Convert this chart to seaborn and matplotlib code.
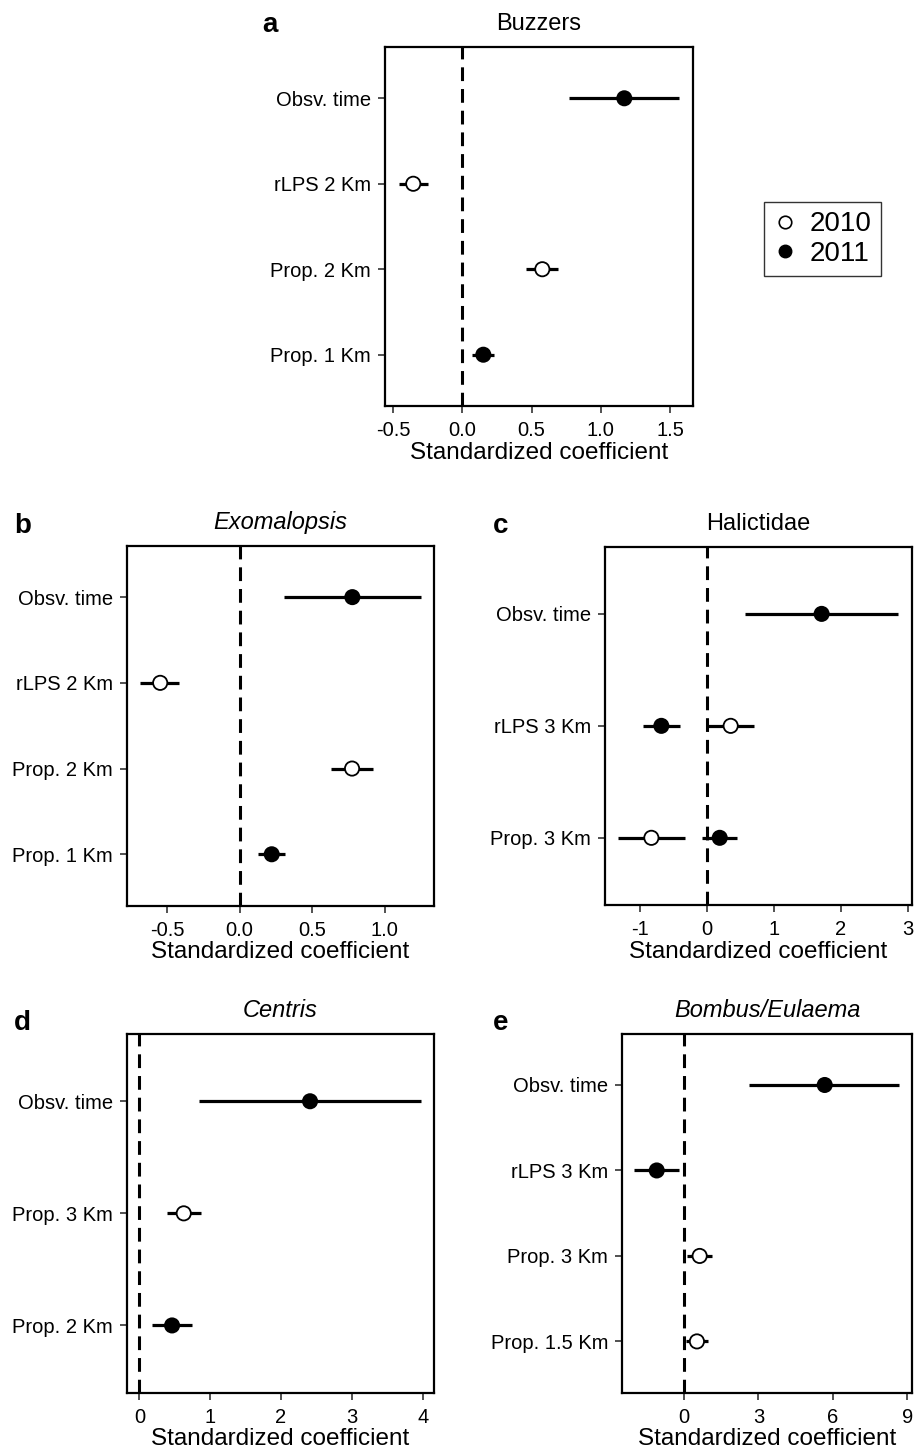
import numpy as np
import pandas as pd
import seaborn as sns
import matplotlib
matplotlib.use("Agg")
from matplotlib import pyplot as plt
from matplotlib.lines import Line2D

# ---- dados ----
# a - Buzzers
a_terms = ["Obsv. time", "rLPS 2 Km", "Prop. 2 Km", "Prop. 1 Km"]
a_row_term = ["Obsv. time", "rLPS 2 Km", "Prop. 2 Km", "Prop. 1 Km"]
a_year = ["2011", "2010", "2010", "2011"]
a_est = [1.17, -0.354, 0.578, 0.152]
a_lo = [0.77, -0.457, 0.46, 0.072]
a_hi = [1.565, -0.245, 0.693, 0.231]

# b - Exomalopsis
b_terms = ["Obsv. time", "rLPS 2 Km", "Prop. 2 Km", "Prop. 1 Km"]
b_row_term = ["Obsv. time", "rLPS 2 Km", "Prop. 2 Km", "Prop. 1 Km"]
b_year = ["2011", "2010", "2010", "2011"]
b_est = [0.777, -0.548, 0.775, 0.221]
b_lo = [0.306, -0.686, 0.628, 0.124]
b_hi = [1.248, -0.417, 0.917, 0.315]

# c - Halictidae
c_terms = ["Obsv. time", "rLPS 3 Km", "Prop. 3 Km"]
c_row_term = ["Obsv. time", "rLPS 3 Km", "rLPS 3 Km", "Prop. 3 Km", "Prop. 3 Km"]
c_year = ["2011", "2011", "2010", "2010", "2011"]
c_est = [1.714, -0.683, 0.354, -0.832, 0.19]
c_lo = [0.568, -0.961, 0.0, -1.326, -0.07]
c_hi = [2.86, -0.399, 0.702, -0.329, 0.444]

# d - Centris
d_terms = ["Obsv. time", "Prop. 3 Km", "Prop. 2 Km"]
d_row_term = ["Obsv. time", "Prop. 3 Km", "Prop. 2 Km"]
d_year = ["2011", "2010", "2011"]
d_est = [2.41, 0.627, 0.462]
d_lo = [0.843, 0.395, 0.184]
d_hi = [3.97, 0.866, 0.744]

# e - Bombus/Eulaema
e_terms = ["Obsv. time", "rLPS 3 Km", "Prop. 3 Km", "Prop. 1.5 Km"]
e_row_term = ["Obsv. time", "rLPS 3 Km", "Prop. 3 Km", "Prop. 1.5 Km"]
e_year = ["2011", "2011", "2010", "2010"]
e_est = [5.67, -1.10, 0.63, 0.52]
e_lo = [2.63, -2.0, 0.13, 0.08]
e_hi = [8.68, -0.2, 1.14, 0.98]

sns.set_theme(style="ticks")
plt.rcParams['font.family'] = ['Liberation Sans', 'DejaVu Sans']
plt.rcParams['axes.unicode_minus'] = False
plt.rcParams['text.color'] = 'black'
plt.rcParams['axes.labelcolor'] = 'black'
plt.rcParams['xtick.color'] = 'black'
plt.rcParams['ytick.color'] = 'black'
plt.rcParams['xtick.labelcolor'] = 'black'
plt.rcParams['ytick.labelcolor'] = 'black'

W, H = 923, 1451
fig = plt.figure(figsize=(W / 100, H / 100), dpi=100)


def px_axes(x0, y0, x1, y1):
    return fig.add_axes([x0 / W, 1 - y1 / H, (x1 - x0) / W, (y1 - y0) / H])


def painel(ax, terms, row_term, year, est, lo, hi, xlim, xticks, title, italic=False):
    dados = pd.DataFrame({'term': row_term, 'year': year, 'est': est, 'lo': lo, 'hi': hi})
    dados['pos'] = dados.term.map({t: i for i, t in enumerate(terms)})
    ax.axvline(0, color='black', lw=2.2, dashes=(4.5, 2.6), zorder=1)
    ax.hlines(dados.pos, dados.lo, dados.hi, color='black', lw=2.3, zorder=2)
    sns.scatterplot(data=dados, x='est', y='pos', hue='year', palette={'2010': 'white', '2011': 'black'},
                    hue_order=['2010', '2011'], s=105, edgecolor='black', linewidth=1.3,
                    legend=False, zorder=3, ax=ax)
    ax.set_ylim(len(terms) - 0.4, -0.6)
    ax.set_yticks(range(len(terms)))
    ax.set_yticklabels(terms)
    ax.set_xlim(*xlim)
    ax.set_xticks(xticks)
    ax.set_xlabel('Standardized coefficient', fontsize=17.5, labelpad=1)
    ax.set_ylabel('')
    ax.set_title(title, fontsize=17, pad=12, style='italic' if italic else 'normal')
    ax.tick_params(axis='x', labelsize=14.5, length=5, width=1.2, color='#333333', pad=6)
    ax.tick_params(axis='y', labelsize=14.5, length=5, width=1.2, color='#333333', pad=5)
    for s in ax.spines.values():
        s.set_visible(True)
        s.set_linewidth(1.6)
        s.set_color('black')
    return ax


ax_a = px_axes(385, 47, 693, 406)
painel(ax_a, a_terms, a_row_term, a_year, a_est, a_lo, a_hi, (-0.558, 1.666),
       [-0.5, 0.0, 0.5, 1.0, 1.5], 'Buzzers')
ax_b = px_axes(126.7, 545.7, 434, 905.7)
painel(ax_b, b_terms, b_row_term, b_year, b_est, b_lo, b_hi, (-0.779, 1.34),
       [-0.5, 0.0, 0.5, 1.0], 'Exomalopsis', italic=True)
ax_c = px_axes(604.7, 546.7, 912.3, 905)
painel(ax_c, c_terms, c_row_term, c_year, c_est, c_lo, c_hi, (-1.53, 3.07),
       [-1, 0, 1, 2, 3], 'Halictidae')
ax_d = px_axes(127, 1034, 434, 1392.7)
painel(ax_d, d_terms, d_row_term, d_year, d_est, d_lo, d_hi, (-0.174, 4.16),
       [0, 1, 2, 3, 4], 'Centris', italic=True)
ax_e = px_axes(622, 1033.7, 912.3, 1392.7)
painel(ax_e, e_terms, e_row_term, e_year, e_est, e_lo, e_hi, (-2.5, 9.2),
       [0, 3, 6, 9], 'Bombus/Eulaema', italic=True)

# letras dos paineis
letras = {'a': (262, 32), 'b': (14, 533), 'c': (493, 533), 'd': (14, 1030), 'e': (493, 1030)}
for k, (x, y) in letras.items():
    fig.text(x / W, 1 - y / H, k, fontsize=20, fontweight='bold', ha='left', va='baseline')

handles = [Line2D([], [], ls='', marker='o', markersize=9, markerfacecolor='white', markeredgecolor='black', markeredgewidth=1.2),
           Line2D([], [], ls='', marker='o', markersize=9, markerfacecolor='black', markeredgecolor='black')]
leg = fig.legend(handles, ['2010', '2011'], loc='center', bbox_to_anchor=(822.5 / W, 1 - 239 / H),
                 fontsize=20, frameon=True, fancybox=False, handlelength=0.8, handletextpad=0.5,
                 labelspacing=0.12, borderpad=0.35)
leg.get_frame().set_edgecolor('black')
leg.get_frame().set_linewidth(1.0)

fig.savefig('out.png', dpi=100)
